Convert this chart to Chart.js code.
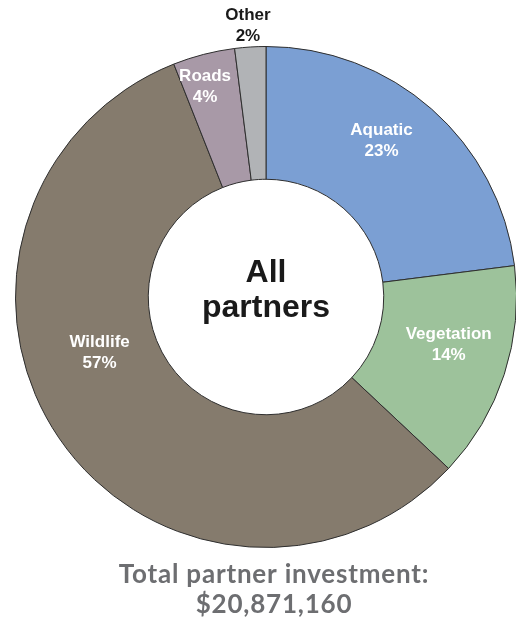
<!DOCTYPE html>
<html>
<head>
<meta charset="utf-8">
<script src="https://cdn.jsdelivr.net/npm/chart.js@4.4.1/dist/chart.umd.min.js"></script>
<style>
  html, body { margin: 0; padding: 0; background: #fff; overflow: hidden; }
  #wrap { width: 532px; height: 617px; }
</style>
</head>
<body>
<div id="wrap"><canvas id="partners-chart" width="532" height="617"></canvas></div>
<script>
// Investment share by category
var categories = ["Aquatic", "Vegetation", "Wildlife", "Roads", "Other"];
var shares = [23, 14, 57, 4, 2];
var sliceColors = ["#7b9fd3", "#9dc29b", "#857b6d", "#a899a7", "#b1b3b6"];
var totalLabel = "$20,871,160";

// label placement per slice: angle nudge (deg) and radius as fraction of outer radius
var labelShift = [-5, -3.6, 15.8, -1.7, -0.2];
var labelRadius = [0.777, 0.753, 0.70, 0.877, 1.088];
var labelColor = ["#fff", "#fff", "#fff", "#fff", "#1a1a1a"];

var sliceLabels = {
    id: 'sliceLabels',
    afterDatasetsDraw: function(chart) {
        var ctx = chart.ctx;
        var arcs = chart.getDatasetMeta(0).data;
        ctx.save();
        ctx.textAlign = 'center';
        ctx.textBaseline = 'middle';
        ctx.font = 'bold 17px "Liberation Sans", Arial, sans-serif';
        arcs.forEach(function(arc, i) {
            var p = arc.getProps(['x', 'y', 'startAngle', 'endAngle', 'outerRadius']);
            var mid = (p.startAngle + p.endAngle) / 2 + labelShift[i] * Math.PI / 180;
            var r = p.outerRadius * labelRadius[i];
            var x = p.x + r * Math.cos(mid);
            var y = p.y + r * Math.sin(mid);
            ctx.fillStyle = labelColor[i];
            ctx.fillText(categories[i], x, y - 10);
            ctx.fillText(shares[i] + '%', x, y + 11);
        });

        // centre caption
        var c = arcs[0];
        ctx.fillStyle = '#1a1a1a';
        ctx.font = 'bold 32px "Liberation Sans", Arial, sans-serif';
        ctx.fillText('All', c.x, c.y - 24);
        ctx.fillText('partners', c.x, c.y + 11);

        // total below the ring
        ctx.fillStyle = '#6d6e71';
        ctx.font = 'bold 26px Lato, "Open Sans", sans-serif';
        ctx.letterSpacing = '0.8px';
        ctx.fillText('Total partner investment:', c.x + 8, 575);
        ctx.fillText(totalLabel, c.x + 8, 605);
        ctx.restore();
    }
};

var ctx = document.getElementById('partners-chart');

var chartData = {
    labels: categories,
    datasets: [{
        data: shares,
        backgroundColor: sliceColors,
        borderColor: '#2e2e2e',
        borderWidth: 1
    }]
};

var chartOptions = {
    responsive: false,
    animation: false,
    cutout: '47%',
    layout: {
        padding: { top: 46, bottom: 69, left: 15, right: 15 }
    },
    plugins: {
        legend: { display: false },
        tooltip: { enabled: false },
        title: { display: false }
    }
};

var partnersChart = new Chart(ctx, {
    type: 'doughnut',
    data: chartData,
    options: chartOptions,
    plugins: [sliceLabels]
});
</script>
</body>
</html>
